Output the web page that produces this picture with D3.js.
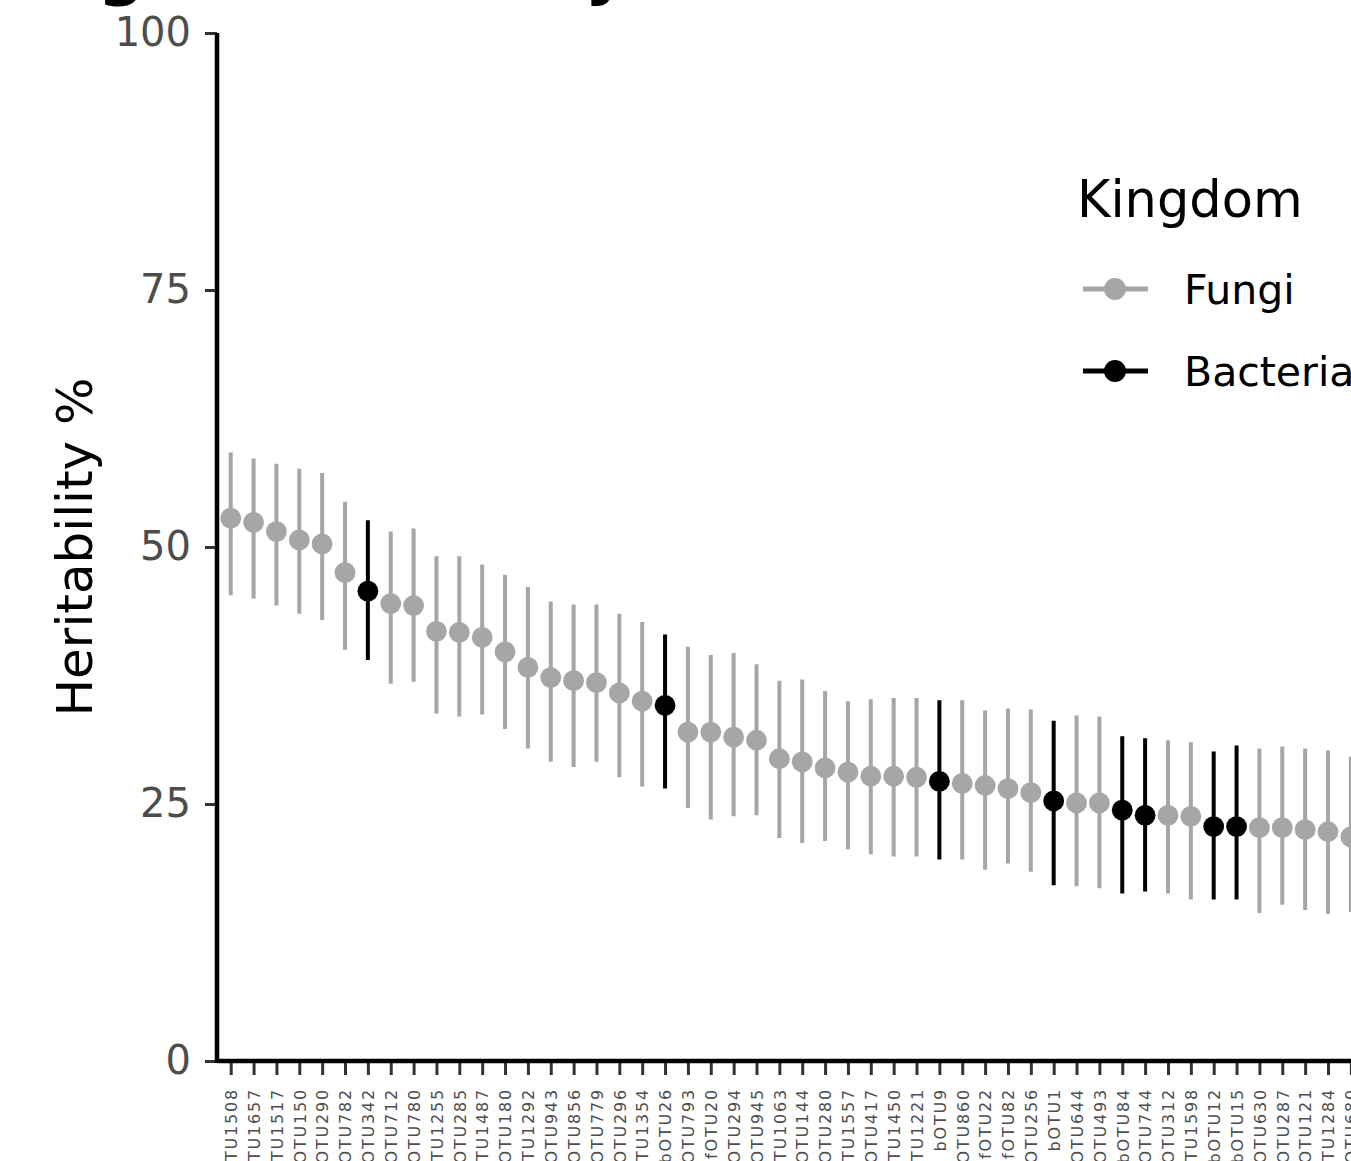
<!DOCTYPE html>
<html lang="en">

<head>
    <meta charset="UTF-8">
    <title>Heritability</title>
    <script src="https://d3js.org/d3.v7.min.js"></script>
    <style>
        html, body { margin: 0; padding: 0; background: #fff; overflow: hidden; }
        svg { display: block; font-family: "DejaVu Sans", sans-serif; }
        .ylab text { font-family: "DejaVu Sans", sans-serif; font-size: 40px; fill: #4d4d4d; }
        .xlab text { font-family: "DejaVu Sans", sans-serif; font-size: 16px; fill: #4d4d4d; letter-spacing: 1.8px; }
        .tick line { stroke: #333; stroke-width: 3px; }
    </style>
</head>

<body>
    <script>
        // OTUs in plotted order
        var otus = ["fOTU1508", "fOTU1657", "fOTU1517", "fOTU150", "fOTU290", "fOTU782", "bOTU342", "fOTU712",
            "fOTU780", "fOTU1255", "fOTU285", "fOTU1487", "fOTU180", "fOTU1292", "fOTU943", "fOTU856",
            "fOTU779", "fOTU296", "fOTU1354", "bOTU26", "fOTU793", "fOTU20", "fOTU294", "fOTU945",
            "fOTU1063", "fOTU144", "fOTU280", "fOTU1557", "fOTU417", "fOTU1450", "fOTU1221", "bOTU9",
            "fOTU860", "fOTU22", "fOTU82", "fOTU256", "bOTU1", "fOTU644", "fOTU493", "bOTU84",
            "bOTU744", "fOTU312", "fOTU1598", "bOTU12", "bOTU15", "fOTU630", "fOTU287", "fOTU121",
            "fOTU1284", "fOTU680"];

        var kingdom = ["Fungi", "Fungi", "Fungi", "Fungi", "Fungi", "Fungi", "Bacteria", "Fungi",
            "Fungi", "Fungi", "Fungi", "Fungi", "Fungi", "Fungi", "Fungi", "Fungi",
            "Fungi", "Fungi", "Fungi", "Bacteria", "Fungi", "Fungi", "Fungi", "Fungi",
            "Fungi", "Fungi", "Fungi", "Fungi", "Fungi", "Fungi", "Fungi", "Bacteria",
            "Fungi", "Fungi", "Fungi", "Fungi", "Bacteria", "Fungi", "Fungi", "Bacteria",
            "Bacteria", "Fungi", "Fungi", "Bacteria", "Bacteria", "Fungi", "Fungi", "Fungi",
            "Fungi", "Fungi"];

        // heritability estimate and interval, %
        var herit = [52.8, 52.4, 51.5, 50.7, 50.3, 47.5, 45.7, 44.5, 44.3, 41.8, 41.7, 41.2, 39.8, 38.3, 37.3, 37.0,
            36.8, 35.8, 35.0, 34.6, 32.0, 32.0, 31.5, 31.2, 29.4, 29.1, 28.5, 28.1, 27.7, 27.7, 27.6, 27.2,
            27.0, 26.8, 26.5, 26.1, 25.3, 25.1, 25.1, 24.4, 23.9, 23.9, 23.8, 22.8, 22.8, 22.7, 22.7, 22.5,
            22.3, 21.8];
        var lower = [45.3, 45.0, 44.3, 43.5, 42.9, 40.0, 39.0, 36.7, 36.9, 33.8, 33.5, 33.7, 32.3, 30.4, 29.1, 28.6,
            29.1, 27.6, 26.7, 26.5, 24.6, 23.5, 23.8, 23.9, 21.7, 21.2, 21.4, 20.6, 20.1, 19.9, 19.9, 19.6,
            19.6, 18.6, 19.2, 18.4, 17.1, 17.0, 16.8, 16.3, 16.5, 16.3, 15.7, 15.7, 15.7, 14.4, 15.2, 14.7,
            14.3, 14.5];
        var upper = [59.2, 58.6, 58.1, 57.6, 57.2, 54.4, 52.6, 51.5, 51.8, 49.1, 49.1, 48.3, 47.3, 46.1, 44.7, 44.4,
            44.4, 43.5, 42.7, 41.5, 40.3, 39.5, 39.7, 38.6, 37.0, 37.1, 36.0, 35.0, 35.2, 35.3, 35.3, 35.1,
            35.1, 34.1, 34.3, 34.2, 33.1, 33.6, 33.5, 31.6, 31.4, 31.2, 31.0, 30.1, 30.7, 30.4, 30.6, 30.4,
            30.2, 29.6];

        var yTicks = [0, 25, 50, 75, 100];
        var kingdoms = ["Fungi", "Bacteria"];
        var kingdomColors = ["#a6a6a6", "#000000"];

        var rows = otus.map(function (d, i) {
            return { otu: d, kingdom: kingdom[i], h: herit[i], lo: lower[i], hi: upper[i] };
        });

        var width = 1351, height = 1161;
        var panelLeft = 217, panelBottom = 1061, panelTop = 33, step = 22.86;

        var svg = d3.select("body").append("svg")
            .attr("width", width)
            .attr("height", height);

        var x = d3.scalePoint()
            .domain(otus)
            .range([panelLeft, panelLeft + (otus.length - 1 + 1.2) * step])
            .padding(0.6);

        var y = d3.scaleLinear()
            .domain([0, 100])
            .range([panelBottom, panelTop]);

        var colour = d3.scaleOrdinal().domain(kingdoms).range(kingdomColors);

        // title, mostly cut off at the top of the frame
        svg.append("text")
            .attr("x", 20)
            .attr("y", -8)
            .style("font-size", "66px")
            .style("font-weight", "bold")
            .text("High heritability");

        // error bars
        svg.append("g").selectAll("line")
            .data(rows)
            .enter()
            .append("line")
            .attr("x1", function (d) { return x(d.otu); })
            .attr("x2", function (d) { return x(d.otu); })
            .attr("y1", function (d) { return y(d.lo); })
            .attr("y2", function (d) { return y(d.hi); })
            .attr("stroke", function (d) { return colour(d.kingdom); })
            .attr("stroke-width", 4);

        // points
        svg.append("g").selectAll("circle")
            .data(rows)
            .enter()
            .append("circle")
            .attr("cx", function (d) { return x(d.otu); })
            .attr("cy", function (d) { return y(d.h); })
            .attr("r", 10.4)
            .attr("fill", function (d) { return colour(d.kingdom); });

        // y axis
        var yAxis = svg.append("g")
            .attr("class", "ylab")
            .attr("transform", "translate(" + panelLeft + ",0)")
            .call(d3.axisLeft(y).tickValues(yTicks).tickSize(12).tickSizeOuter(0).tickPadding(14));
        yAxis.select(".domain").remove();

        // x axis
        var xAxis = svg.append("g")
            .attr("class", "xlab")
            .attr("transform", "translate(0," + panelBottom + ")")
            .call(d3.axisBottom(x).tickSize(14).tickSizeOuter(0));
        xAxis.select(".domain").remove();
        xAxis.selectAll("text")
            .attr("transform", "rotate(-90)")
            .attr("x", -27)
            .attr("y", 0)
            .attr("dy", "0.36em")
            .style("text-anchor", "end");

        // axis lines
        svg.append("line")
            .attr("x1", panelLeft).attr("x2", x.range()[1])
            .attr("y1", panelBottom).attr("y2", panelBottom)
            .attr("stroke", "#000").attr("stroke-width", 4.5);
        svg.append("line")
            .attr("x1", panelLeft).attr("x2", panelLeft)
            .attr("y1", panelTop).attr("y2", panelBottom + 2)
            .attr("stroke", "#000").attr("stroke-width", 4.5);

        // y title
        svg.append("text")
            .attr("transform", "translate(92," + (panelTop + panelBottom) / 2 + ") rotate(-90)")
            .style("text-anchor", "middle")
            .style("font-size", "50px")
            .text("Heritability %");

        // legend inside the panel
        var legend = svg.append("g").attr("transform", "translate(1077,0)");
        legend.append("text")
            .attr("x", 0).attr("y", 217)
            .style("font-size", "51px")
            .text("Kingdom");

        var keys = legend.selectAll(".key")
            .data(kingdoms)
            .enter()
            .append("g")
            .attr("class", "key")
            .attr("transform", function (d, i) { return "translate(0," + (289 + i * 82) + ")"; });
        keys.append("line")
            .attr("x1", 6).attr("x2", 71)
            .attr("stroke", function (d) { return colour(d); })
            .attr("stroke-width", 5);
        keys.append("circle")
            .attr("cx", 38).attr("r", 11)
            .attr("fill", function (d) { return colour(d); });
        keys.append("text")
            .attr("x", 107).attr("y", 15)
            .style("font-size", "41px")
            .text(function (d) { return d; });
    </script>
</body>
</html>
